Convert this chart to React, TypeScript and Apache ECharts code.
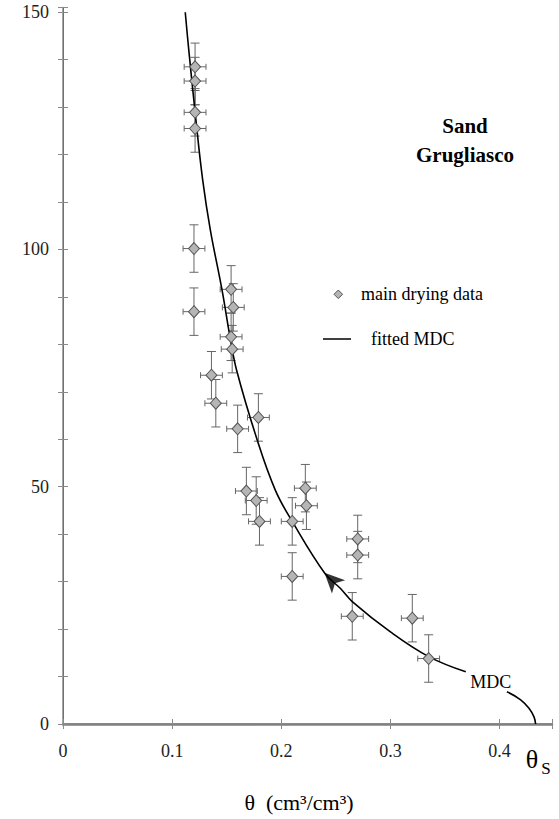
import React, { useEffect, useRef } from 'react';
import * as echarts from 'echarts';

// Main drying data (volumetric water content θ, suction head h)
const thetaData = [0.121, 0.121, 0.121, 0.121, 0.120, 0.120, 0.154, 0.156, 0.154, 0.155, 0.136, 0.140, 0.160, 0.179, 0.168, 0.177, 0.180, 0.210, 0.222, 0.223, 0.210, 0.270, 0.270, 0.265, 0.320, 0.335];
const headData = [138.5, 135.5, 128.9, 125.5, 100.2, 86.9, 91.6, 87.8, 81.6, 79.0, 73.5, 67.6, 62.2, 64.6, 49.1, 47.1, 42.7, 42.7, 49.7, 46.0, 31.1, 39.0, 35.6, 22.7, 22.3, 13.8];
const thetaErr = 0.01;
const headErr = 5;

// Fitted main drying curve (upper part, before the "MDC" label)
const mdcTheta = [0.112, 0.115, 0.121, 0.128, 0.135, 0.1456, 0.153, 0.159, 0.178, 0.1945, 0.210, 0.240, 0.254, 0.265, 0.300, 0.335, 0.369];
const mdcHead = [150, 142.6, 129, 114.6, 104.1, 91.6, 81.6, 74.6, 59.8, 49.3, 42.7, 31.7, 28.6, 25.8, 19.4, 14.2, 11.0];
// Fitted curve (tail, after the label, down to θs)
const tailTheta = [0.4067, 0.4193, 0.4269, 0.4315, 0.4330];
const tailHead = [6.8, 5.1, 3.3, 1.5, 0];

// Direction arrow on the curve
const arrowPoint = [0.2395, 31.9];

const xTickLabels = ['0', '0.1', '0.2', '0.3', '0.4'];
const yTickLabels = ['0', '50', '100', '150'];

const FONT = 'Liberation Serif';
const AXIS_COLOR = '#8a8a8a';

export default function App() {
  const ref = useRef<HTMLDivElement>(null);

  useEffect(() => {
    document.body.style.margin = '0';
    if (!ref.current) return;
    const chart = echarts.init(ref.current, undefined, { renderer: 'svg' });

    const fmtX = (v: number) => {
      const k = Math.round(v * 10);
      if (Math.abs(v * 10 - k) > 1e-6) return '';
      return xTickLabels[k] ?? '';
    };
    const fmtY = (v: number) => {
      const k = Math.round(v / 50);
      if (Math.abs(v - k * 50) > 1e-6) return '';
      return yTickLabels[k] ?? '';
    };

    const txt = (x: number, y: number, text: string, size: number, bold = false, align = 'center') => ({
      type: 'text', x, y,
      style: {
        text, fontFamily: FONT, fontSize: size, fontWeight: bold ? 'bold' : 'normal',
        fill: '#000', textAlign: align, textVerticalAlign: 'middle',
      },
    });

    const option: any = {
      animation: false,
      backgroundColor: '#ffffff',
      grid: { left: 63, right: 7, top: 7.5, bottom: 95, containLabel: false },
      xAxis: [
        {
          type: 'value', position: 'bottom', min: 0, max: 0.448, interval: 0.1,
          axisLine: { show: true, lineStyle: { color: AXIS_COLOR, width: 1.5 } },
          axisTick: { show: true, inside: false, length: 5, lineStyle: { color: AXIS_COLOR, width: 1 } },
          axisLabel: { show: true, formatter: fmtX, margin: 18, color: '#222', fontFamily: FONT, fontSize: 18 },
          splitLine: { show: false },
        },
        {
          type: 'value', position: 'bottom', min: 0, max: 0.448, interval: 0.1,
          axisLine: { show: false },
          axisTick: { show: true, inside: true, length: 5, lineStyle: { color: AXIS_COLOR, width: 1 } },
          axisLabel: { show: false },
          splitLine: { show: false },
        },
        {
          type: 'value', position: 'top', min: 0, max: 0.448,
          axisLine: { show: true, lineStyle: { color: '#808080', width: 2.5 } },
          axisTick: { show: false },
          axisLabel: { show: false },
          splitLine: { show: false },
        },
      ],
      yAxis: [
        {
          type: 'value', position: 'left', min: 0, max: 151, interval: 10,
          axisLine: { show: true, lineStyle: { color: AXIS_COLOR, width: 1.5 } },
          axisTick: { show: true, inside: false, length: 5, lineStyle: { color: AXIS_COLOR, width: 1 } },
          axisLabel: { show: true, formatter: fmtY, margin: 14, color: '#222', fontFamily: FONT, fontSize: 18 },
          splitLine: { show: false },
        },
        {
          type: 'value', position: 'left', min: 0, max: 151, interval: 10,
          axisLine: { show: false },
          axisTick: { show: true, inside: true, length: 5, lineStyle: { color: AXIS_COLOR, width: 1 } },
          axisLabel: { show: false },
          splitLine: { show: false },
        },
        {
          type: 'value', position: 'right', min: 0, max: 151,
          axisLine: { show: true, lineStyle: { color: '#707070', width: 1 } },
          axisTick: { show: false },
          axisLabel: { show: false },
          splitLine: { show: false },
        },
      ],
      series: [
        {
          name: 'error bars',
          type: 'custom',
          xAxisIndex: 0, yAxisIndex: 0,
          z: 2,
          data: thetaData.map((t, i) => [t, headData[i]]),
          renderItem: (params: any, api: any) => {
            const x = api.value(0);
            const y = api.value(1);
            const top = api.coord([x, y + headErr]);
            const bot = api.coord([x, y - headErr]);
            const left = api.coord([x - thetaErr, y]);
            const right = api.coord([x + thetaErr, y]);
            const cw = 4.5;
            const ch = 3;
            const style = { stroke: '#666', lineWidth: 1, fill: null };
            const ln = (x1: number, y1: number, x2: number, y2: number) => ({
              type: 'line', shape: { x1, y1, x2, y2 }, style,
            });
            return {
              type: 'group',
              children: [
                ln(top[0], top[1], bot[0], bot[1]),
                ln(top[0] - cw, top[1], top[0] + cw, top[1]),
                ln(bot[0] - cw, bot[1], bot[0] + cw, bot[1]),
                ln(left[0], left[1], right[0], right[1]),
                ln(left[0], left[1] - ch, left[0], left[1] + ch),
                ln(right[0], right[1] - ch, right[0], right[1] + ch),
              ],
            };
          },
        },
        {
          name: 'fitted MDC',
          type: 'line',
          xAxisIndex: 0, yAxisIndex: 0,
          z: 3,
          data: mdcTheta.map((t, i) => [t, mdcHead[i]]),
          smooth: 0.4,
          symbol: 'none',
          lineStyle: { color: '#000', width: 1.6 },
        },
        {
          name: 'fitted MDC tail',
          type: 'line',
          xAxisIndex: 0, yAxisIndex: 0,
          z: 3,
          data: tailTheta.map((t, i) => [t, tailHead[i]]),
          smooth: 0.4,
          symbol: 'none',
          lineStyle: { color: '#000', width: 1.6 },
        },
        {
          name: 'main drying data',
          type: 'scatter',
          xAxisIndex: 0, yAxisIndex: 0,
          z: 4,
          data: thetaData.map((t, i) => [t, headData[i]]),
          symbol: 'diamond',
          symbolSize: [11, 12],
          itemStyle: { color: '#b5b5b5', borderColor: '#555', borderWidth: 1, opacity: 1 },
        },
        {
          name: 'arrow',
          type: 'scatter',
          xAxisIndex: 0, yAxisIndex: 0,
          z: 5,
          data: [arrowPoint],
          symbol: 'arrow',
          symbolSize: [14, 20],
          symbolRotate: 45,
          itemStyle: { color: '#000' },
        },
      ],
      graphic: [
        txt(465, 126, 'Sand', 21, true),
        txt(465, 155, 'Grugliasco', 21, true),
        { type: 'polygon', shape: { points: [[338.3, 290], [342.6, 294.3], [338.3, 298.6], [334, 294.3]] }, style: { fill: '#b5b5b5', stroke: '#555', lineWidth: 1 } },
        txt(361, 294, 'main drying data', 18, false, 'left'),
        { type: 'line', shape: { x1: 323, y1: 339, x2: 351, y2: 339 }, style: { stroke: '#000', lineWidth: 1.5 } },
        txt(371, 339, 'fitted MDC', 18, false, 'left'),
        txt(490.7, 682, 'MDC', 18),
        txt(532, 759, 'θ', 26),
        txt(546, 768, 'S', 17),
        txt(299, 802, 'θ  (cm³/cm³)', 22),
      ],
    };

    chart.setOption(option);
    return () => chart.dispose();
  }, []);

  return <div ref={ref} style={{ width: 559, height: 819 }} />;
}
